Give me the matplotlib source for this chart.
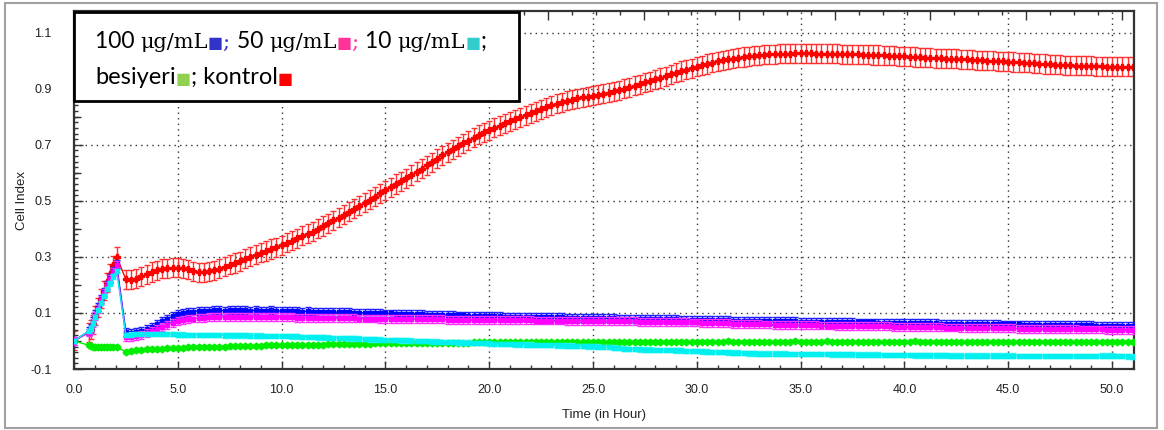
import numpy as np
import matplotlib
matplotlib.use("Agg")
import matplotlib.pyplot as plt
from matplotlib.ticker import MultipleLocator, NullFormatter
from matplotlib.patches import Rectangle

# measurement times (hours): first sweep, then one reading every 15 min
early_t = [0.0, 0.7, 0.8, 0.9, 1.0, 1.15, 1.3, 1.45, 1.6, 1.75, 1.9, 2.05]
sweep_t = np.arange(2.5, 51.001, 0.25)
hours = np.concatenate([early_t, sweep_t])

# Cell Index
kontrol = [0.0, 0.03, 0.04, 0.06, 0.09, 0.12, 0.15, 0.18, 0.21, 0.24, 0.27, 0.30,
    0.220, 0.218,
    0.222, 0.230, 0.238, 0.246,  0.252, 0.257, 0.260, 0.262,
    0.262, 0.259, 0.255, 0.249,  0.245, 0.245, 0.248, 0.252,
    0.258, 0.265, 0.272, 0.278,  0.285, 0.293, 0.301, 0.308,
    0.315, 0.321, 0.328, 0.335,  0.342, 0.350, 0.358, 0.366,
    0.375, 0.382, 0.390, 0.400,  0.410, 0.420, 0.430, 0.440,
    0.450, 0.461, 0.472, 0.482,  0.493, 0.504, 0.515, 0.527,
    0.538, 0.549, 0.560, 0.570,  0.580, 0.592, 0.603, 0.615,
    0.627, 0.638, 0.650, 0.662,  0.673, 0.684, 0.695, 0.705,
    0.715, 0.725, 0.735, 0.744,  0.752, 0.760, 0.768, 0.776,
    0.783, 0.791, 0.798, 0.805,  0.812, 0.819, 0.826, 0.833,
    0.840, 0.846, 0.852, 0.857,  0.861, 0.865, 0.869, 0.872,
    0.875, 0.878, 0.882, 0.886,  0.890, 0.895, 0.900, 0.905,
    0.910, 0.916, 0.922, 0.927,  0.933, 0.938, 0.944, 0.951,
    0.957, 0.963, 0.968, 0.973,  0.978, 0.983, 0.988, 0.993,
    0.997, 1.001, 1.004, 1.007,  1.010, 1.013, 1.015, 1.017,
    1.019, 1.021, 1.022, 1.023,  1.024, 1.025, 1.025, 1.026,
    1.026, 1.026, 1.026, 1.025,  1.025, 1.025, 1.024, 1.024,
    1.023, 1.023, 1.022, 1.022,  1.021, 1.021, 1.020, 1.020,
    1.019, 1.018, 1.017, 1.016,  1.015, 1.014, 1.013, 1.012,
    1.011, 1.010, 1.009, 1.008,  1.007, 1.007, 1.006, 1.005,
    1.004, 1.003, 1.002, 1.001,  1.000, 0.999, 0.998, 0.997,
    0.996, 0.995, 0.994, 0.993,  0.992, 0.990, 0.989, 0.988,
    0.987, 0.986, 0.985, 0.984,  0.983, 0.982, 0.982, 0.981,
    0.981, 0.980, 0.980, 0.979,  0.979, 0.979, 0.978, 0.978,
    0.978]

d100 = [0.0, 0.035, 0.045, 0.07, 0.095, 0.12, 0.15, 0.175, 0.2, 0.225, 0.25, 0.275,
    0.032, 0.030,
    0.032, 0.036, 0.042, 0.050,  0.060, 0.070, 0.080, 0.088,
    0.095, 0.100, 0.103, 0.105,  0.107, 0.108, 0.108, 0.109,
    0.109, 0.108, 0.109, 0.110,  0.109, 0.109, 0.108, 0.109,
    0.108, 0.108, 0.109, 0.107,  0.107, 0.108, 0.106, 0.106,
    0.105, 0.106, 0.105, 0.104,  0.104, 0.103, 0.104, 0.102,
    0.102, 0.102, 0.101, 0.101,  0.100, 0.101, 0.099, 0.099,
    0.098, 0.098, 0.097, 0.097,  0.096, 0.096, 0.095, 0.095,
    0.094, 0.094, 0.093, 0.093,  0.092, 0.092, 0.091, 0.091,
    0.090, 0.090, 0.089, 0.089,  0.088, 0.088, 0.088, 0.087,
    0.087, 0.087, 0.086, 0.086,  0.086, 0.085, 0.085, 0.085,
    0.084, 0.084, 0.084, 0.083,  0.083, 0.083, 0.082, 0.082,
    0.082, 0.082, 0.081, 0.081,  0.081, 0.080, 0.080, 0.080,
    0.079, 0.079, 0.079, 0.078,  0.078, 0.078, 0.077, 0.077,
    0.077, 0.076, 0.076, 0.076,  0.076, 0.075, 0.075, 0.075,
    0.074, 0.074, 0.074, 0.073,  0.073, 0.073, 0.072, 0.072,
    0.072, 0.071, 0.071, 0.071,  0.070, 0.070, 0.070, 0.070,
    0.069, 0.069, 0.069, 0.068,  0.068, 0.068, 0.068, 0.067,
    0.067, 0.067, 0.067, 0.066,  0.066, 0.066, 0.066, 0.065,
    0.065, 0.065, 0.065, 0.064,  0.064, 0.064, 0.064, 0.063,
    0.063, 0.063, 0.063, 0.062,  0.062, 0.062, 0.062, 0.061,
    0.061, 0.061, 0.061, 0.060,  0.060, 0.060, 0.060, 0.059,
    0.059, 0.059, 0.059, 0.058,  0.058, 0.058, 0.058, 0.057,
    0.057, 0.057, 0.057, 0.057,  0.056, 0.056, 0.056, 0.056,
    0.056, 0.055, 0.055, 0.055,  0.055, 0.055, 0.054, 0.054,
    0.054]

d50 = [0.0, 0.03, 0.04, 0.065, 0.09, 0.115, 0.145, 0.17, 0.195, 0.22, 0.245, 0.27,
    0.015, 0.015,
    0.018, 0.022, 0.028, 0.035,  0.042, 0.050, 0.058, 0.065,
    0.071, 0.075, 0.078, 0.080,  0.082, 0.083, 0.084, 0.085,
    0.085, 0.086, 0.085, 0.086,  0.086, 0.085, 0.086, 0.085,
    0.085, 0.085, 0.084, 0.085,  0.084, 0.084, 0.084, 0.083,
    0.083, 0.083, 0.082, 0.083,  0.082, 0.082, 0.082, 0.081,
    0.081, 0.081, 0.081, 0.080,  0.080, 0.080, 0.080, 0.079,
    0.079, 0.079, 0.079, 0.078,  0.078, 0.078, 0.078, 0.077,
    0.077, 0.077, 0.077, 0.077,  0.076, 0.076, 0.076, 0.076,
    0.076, 0.075, 0.075, 0.075,  0.075, 0.075, 0.075, 0.074,
    0.074, 0.074, 0.074, 0.074,  0.074, 0.073, 0.073, 0.073,
    0.073, 0.073, 0.073, 0.072,  0.072, 0.072, 0.072, 0.072,
    0.072, 0.071, 0.071, 0.071,  0.071, 0.070, 0.070, 0.070,
    0.070, 0.069, 0.069, 0.069,  0.069, 0.068, 0.068, 0.068,
    0.068, 0.067, 0.067, 0.066,  0.066, 0.065, 0.065, 0.064,
    0.064, 0.063, 0.063, 0.062,  0.062, 0.061, 0.061, 0.060,
    0.060, 0.059, 0.059, 0.058,  0.058, 0.058, 0.057, 0.057,
    0.057, 0.056, 0.056, 0.056,  0.055, 0.055, 0.055, 0.054,
    0.054, 0.054, 0.053, 0.053,  0.053, 0.053, 0.052, 0.052,
    0.052, 0.052, 0.051, 0.051,  0.051, 0.050, 0.050, 0.050,
    0.050, 0.049, 0.049, 0.049,  0.048, 0.048, 0.048, 0.047,
    0.047, 0.047, 0.047, 0.046,  0.046, 0.046, 0.045, 0.045,
    0.045, 0.045, 0.044, 0.044,  0.044, 0.043, 0.043, 0.043,
    0.043, 0.042, 0.042, 0.042,  0.042, 0.042, 0.041, 0.041,
    0.041, 0.041, 0.041, 0.040,  0.040, 0.040, 0.040, 0.040,
    0.040]

d10 = [0.0, 0.035, 0.045, 0.065, 0.085, 0.11, 0.135, 0.16, 0.185, 0.205, 0.23, 0.25,
    0.022, 0.023,
    0.024, 0.024, 0.025, 0.025,  0.025, 0.024, 0.024, 0.024,
    0.023, 0.023, 0.022, 0.022,  0.022, 0.021, 0.021, 0.021,
    0.021, 0.020, 0.020, 0.020,  0.020, 0.020, 0.019, 0.019,
    0.019, 0.018, 0.018, 0.018,  0.017, 0.017, 0.016, 0.016,
    0.015, 0.015, 0.014, 0.013,  0.013, 0.012, 0.011, 0.011,
    0.010, 0.009, 0.009, 0.008,  0.007, 0.006, 0.006, 0.005,
    0.004, 0.004, 0.003, 0.002,  0.002, 0.001, 0.000, 0.000,
    -0.001, -0.002, -0.002, -0.003,  -0.004, -0.004, -0.005, -0.006,
    -0.006, -0.007, -0.008, -0.008,  -0.009, -0.010, -0.010, -0.011,
    -0.011, -0.012, -0.012, -0.013,  -0.013, -0.014, -0.014, -0.015,
    -0.015, -0.016, -0.016, -0.017,  -0.017, -0.018, -0.018, -0.019,
    -0.019, -0.020, -0.021, -0.022,  -0.024, -0.025, -0.027, -0.028,
    -0.029, -0.030, -0.031, -0.031,  -0.032, -0.032, -0.033, -0.033,
    -0.034, -0.034, -0.035, -0.035,  -0.036, -0.037, -0.038, -0.039,
    -0.040, -0.040, -0.041, -0.042,  -0.042, -0.043, -0.044, -0.044,
    -0.045, -0.045, -0.045, -0.045,  -0.045, -0.045, -0.046, -0.046,
    -0.046, -0.046, -0.047, -0.047,  -0.047, -0.047, -0.048, -0.048,
    -0.048, -0.048, -0.048, -0.049,  -0.049, -0.049, -0.049, -0.049,
    -0.050, -0.050, -0.050, -0.050,  -0.050, -0.050, -0.051, -0.051,
    -0.051, -0.051, -0.051, -0.051,  -0.051, -0.052, -0.052, -0.052,
    -0.052, -0.052, -0.052, -0.052,  -0.052, -0.052, -0.052, -0.052,
    -0.052, -0.052, -0.053, -0.053,  -0.053, -0.053, -0.053, -0.053,
    -0.053, -0.053, -0.053, -0.053,  -0.053, -0.053, -0.054, -0.054,
    -0.053, -0.053, -0.052, -0.052,  -0.052, -0.053, -0.054, -0.055,
    -0.056]

besiyeri = [0.0, -0.015, -0.018, -0.02, -0.02, -0.021, -0.02, -0.021, -0.022, -0.021, -0.022, -0.022,
    -0.038, -0.035,
    -0.032, -0.031, -0.030, -0.029,  -0.028, -0.027, -0.026, -0.025,
    -0.024, -0.024, -0.023, -0.023,  -0.022, -0.022, -0.021, -0.021,
    -0.020, -0.020, -0.019, -0.019,  -0.018, -0.018, -0.018, -0.017,
    -0.017, -0.016, -0.016, -0.016,  -0.015, -0.015, -0.015, -0.014,
    -0.014, -0.014, -0.013, -0.013,  -0.013, -0.012, -0.012, -0.012,
    -0.011, -0.011, -0.011, -0.010,  -0.010, -0.010, -0.009, -0.009,
    -0.009, -0.008, -0.008, -0.008,  -0.008, -0.007, -0.007, -0.007,
    -0.007, -0.007, -0.006, -0.006,  -0.006, -0.006, -0.006, -0.006,
    -0.006, -0.005, -0.005, -0.005,  -0.005, -0.005, -0.005, -0.005,
    -0.005, -0.005, -0.004, -0.004,  -0.004, -0.004, -0.004, -0.004,
    -0.004, -0.004, -0.004, -0.004,  -0.004, -0.004, -0.004, -0.003,
    -0.003, -0.003, -0.004, -0.003,  -0.003, -0.003, -0.003, -0.003,
    -0.003, -0.003, -0.003, -0.003,  -0.003, -0.003, -0.002, -0.003,
    -0.002, -0.002, -0.002, -0.002,  -0.002, -0.002, -0.002, -0.002,
    -0.002, -0.002, -0.001, -0.002,  -0.002, -0.002, -0.002, -0.002,
    -0.002, -0.003, -0.002, -0.002,  -0.002, -0.002, -0.002, -0.001,
    -0.002, -0.002, -0.002, -0.002,  -0.002, -0.001, -0.002, -0.002,
    -0.002, -0.002, -0.002, -0.002,  -0.003, -0.002, -0.002, -0.002,
    -0.002, -0.002, -0.002, -0.002,  -0.002, -0.002, -0.001, -0.002,
    -0.002, -0.002, -0.002, -0.002,  -0.002, -0.002, -0.002, -0.002,
    -0.002, -0.002, -0.002, -0.003,  -0.002, -0.002, -0.002, -0.002,
    -0.002, -0.002, -0.002, -0.002,  -0.002, -0.002, -0.002, -0.002,
    -0.002, -0.002, -0.002, -0.002,  -0.002, -0.002, -0.002, -0.002,
    -0.002, -0.002, -0.002, -0.002,  -0.002, -0.002, -0.002, -0.002,
    -0.002]

# error bar half-heights
err_kontrol = 0.034
err_d100 = 0.014
err_d50 = 0.014
err_d10 = 0.008
err_besiyeri = 0.007

fig = plt.figure(figsize=(11.64, 4.30), dpi=100)
ax = fig.add_axes([74/1164, 1-369/430, 1060/1164, 358/430])

series = [
    (kontrol, err_kontrol, "#ff0000", "#ff3030", "P", 4.5, 2),
    (besiyeri, err_besiyeri, "#00ee00", "#30f030", "D", 3.5, 3),
    (d100, err_d100, "#0000ff", "#2020ff", "s", 3.5, 4),
    (d50, err_d50, "#ff00ff", "#ff30ff", "s", 3.5, 5),
    (d10, err_d10, "#00f0f0", "#30f0f0", "s", 3.5, 6),
]
for vals, err, col, ecol, mk, ms, z in series:
    assert len(vals) == len(hours)
    ax.errorbar(hours, vals, yerr=err, color=col, ecolor=ecol, elinewidth=1.0,
                capsize=2.0, capthick=1.0, marker=mk, ms=ms, mec=col, mfc=col,
                lw=1.0, zorder=z)

ax.set_xlim(0, 51.06)
ax.set_ylim(-0.1, 1.177)
ax.xaxis.set_major_locator(MultipleLocator(5))
ax.xaxis.set_minor_locator(MultipleLocator(1))
ax.xaxis.set_major_formatter(plt.FuncFormatter(lambda v, p: f"{v:.1f}"))
ax.yaxis.set_major_locator(MultipleLocator(0.2, offset=0.1))
ax.yaxis.set_minor_locator(MultipleLocator(0.02))
ax.yaxis.set_major_formatter(plt.FuncFormatter(lambda v, p: f"{v:.1f}"))

ax.grid(True, which="major", ls=(0, (1, 3)), color="#333333", lw=1.0)
ax.tick_params(which="both", direction="in", color="#333333", width=1.0,
               labelsize=9, labelcolor="#222222")
ax.tick_params(axis="y", which="major", length=6.5, pad=16)
ax.tick_params(axis="y", which="minor", length=2.9)
ax.tick_params(axis="x", which="major", length=5.5, pad=11)
ax.tick_params(axis="x", which="minor", length=2.9)
for lab in ax.get_xticklabels() + ax.get_yticklabels():
    lab.set_family("Liberation Sans")
for s in ax.spines.values():
    s.set_color("#333333")
    s.set_linewidth(1.6)

# medium ticks at even tenths on the left
sec = ax.secondary_yaxis("left")
sec.set_yticks([0.0, 0.2, 0.4, 0.6, 0.8, 1.0])
sec.yaxis.set_major_formatter(NullFormatter())
sec.tick_params(direction="in", length=4.7, width=1.0, color="#333333")
sec.spines["left"].set_visible(False)

# ticks along the top edge
top = ax.twiny()
top.set_xlim(0.04, 11.13)
top.xaxis.set_major_locator(MultipleLocator(1))
top.xaxis.set_minor_locator(MultipleLocator(0.25))
top.xaxis.set_major_formatter(NullFormatter())
top.tick_params(which="both", direction="in", color="#333333", width=1.0)
top.tick_params(which="major", length=6.5)
top.tick_params(which="minor", length=2.9)
for s in top.spines.values():
    s.set_visible(False)

ax.set_xlabel("Time (in Hour)", fontsize=9.5, family="Liberation Sans", color="#222222")
ax.xaxis.set_label_coords(0.5, -0.112)
ax.set_ylabel("Cell Index", fontsize=9.5, family="Liberation Sans", color="#222222")
ax.yaxis.set_label_coords(-0.0435, 0.472)

# outer frame
fig.add_artist(Rectangle((5/1164, 2/430), 1152/1164, 425/430, transform=fig.transFigure,
                         fill=False, ec="#a0a0a0", lw=1.5, zorder=10))

# legend box with coloured squares
fig.add_artist(Rectangle((74/1164, 1-101/430), 445/1164, 89/430, transform=fig.transFigure,
                         fc="white", ec="black", lw=2.0, zorder=20))

sans = "Lato"
serif = "DejaVu Serif"
line1 = [("100 ", "black", sans, 16.5), ("μg/mL", "black", serif, 15),
         ("■", "#3333cc", "DejaVu Sans", 11.5), ("; ", "#3333cc", serif, 15),
         ("50 ", "black", sans, 16.5), ("μg/mL", "black", serif, 15),
         ("■", "#ff3399", "DejaVu Sans", 11.5), ("; ", "#ff3399", serif, 15),
         ("10 ", "black", sans, 16.5), ("μg/mL", "black", serif, 15),
         ("■", "#33cccc", "DejaVu Sans", 11.5), (";", "black", sans, 16.5)]
line2 = [("besiyeri", "black", sans, 17), ("■", "#92d050", "DejaVu Sans", 11.5),
         ("; kontrol", "black", sans, 17), ("■", "#ff0000", "DejaVu Sans", 11.5)]

renderer = fig.canvas.get_renderer()
for pieces, ybase in [(line1, 48), (line2, 84)]:
    x = 95.0
    for s, col, fam, size in pieces:
        t = fig.text(x/1164, 1-ybase/430, s, color=col, family=fam, fontsize=size,
                     va="baseline", ha="left", zorder=21)
        x += t.get_window_extent(renderer).width

fig.savefig("out.png", dpi=100)
